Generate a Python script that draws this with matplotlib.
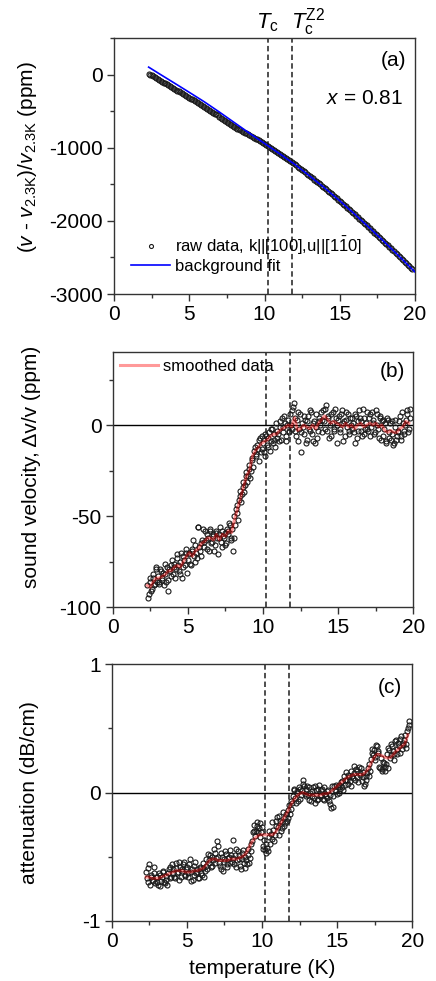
import numpy as np
import matplotlib
matplotlib.use("Agg")
import matplotlib.pyplot as plt
from matplotlib.ticker import MultipleLocator
import matplotlib.transforms as mtransforms

plt.rcParams['font.family'] = ['Liberation Sans', 'DejaVu Sans']
plt.rcParams['mathtext.fontset'] = 'custom'
plt.rcParams['mathtext.rm'] = 'Liberation Sans'
plt.rcParams['mathtext.it'] = 'Liberation Sans:italic'
plt.rcParams['mathtext.bf'] = 'Liberation Sans:bold'
plt.rcParams['axes.unicode_minus'] = False

# ---------------- data ----------------
T_c = 10.2
T_cZ2 = 11.8

# panel (a): background fit
fit_T = [2.3, 3, 4, 5, 6, 7, 8, 9, 10, 11, 12, 13, 14, 15, 16, 17, 18, 19, 20]
fit_v = [105, 15, -112, -240, -370, -510, -655, -800, -940, -1080, -1225,
         -1385, -1550, -1725, -1910, -2100, -2295, -2495, -2700]

# measurement temperature grids (K)
T1 = np.round(np.arange(2.3, 19.85, 0.1), 2)     # 2.3 ... 19.8
T2 = np.round(np.arange(2.35, 19.80, 0.1), 2)    # 2.35 ... 19.75

# panel (a): raw data (ppm) on T1
raw_v = [17, 3, -8, -18, -32, -46, -57,
         -68, -82, -95, -106, -117, -130, -143, -154, -167, -178,
         -190, -203, -216, -227, -238, -251, -265, -276, -287, -300,
         -313, -325, -336, -350, -361, -374, -388, -399, -410, -424,
         -437, -450, -465, -477, -490, -504, -518, -531, -543, -557,
         -572, -586, -599, -614, -627, -642, -656, -670, -684, -698,
         -711, -725, -737, -747, -757, -768, -780, -791, -802, -814,
         -826, -837, -848, -860, -872, -883, -896, -909, -922, -935,
         -949, -962, -975, -989, -1003, -1016, -1030, -1043, -1056, -1070,
         -1085, -1099, -1112, -1127, -1141, -1155, -1169, -1183, -1196, -1211,
         -1226, -1241, -1257, -1273, -1290, -1305, -1320, -1337, -1353, -1369,
         -1385, -1402, -1418, -1435, -1452, -1468, -1484, -1501, -1517, -1534,
         -1551, -1568, -1586, -1603, -1620, -1638, -1655, -1673, -1690, -1708,
         -1726, -1744, -1763, -1781, -1799, -1818, -1837, -1855, -1873, -1892,
         -1911, -1929, -1948, -1967, -1986, -2005, -2024, -2043, -2062, -2081,
         -2100, -2120, -2140, -2159, -2178, -2198, -2218, -2237, -2256, -2276,
         -2296, -2315, -2335, -2355, -2375, -2395, -2415, -2435, -2455, -2475,
         -2495, -2516, -2537, -2557, -2577, -2598, -2619, -2639, -2660]

# panel (b): sound velocity change (ppm) on T1 and T2
dv1 = [-88, -93, -86, -90, -84, -87, -79,
       -83, -86, -80, -84, -88, -82, -78, -85, -80, -77,
       -82, -76, -79, -73, -80, -75, -84, -72, -77, -70,
       -74, -70, -77, -68, -72, -66, -73, -56, -69, -65,
       -57, -67, -63, -60, -69, -58, -64, -61, -66, -59,
       -71, -60, -64, -58, -62, -66, -57, -60, -55, -63,
       -69, -50, -46, -48, -41, -36, -38, -31, -33, -26,
       -28, -22, -25, -18, -14, -16, -11, -20, -7, -13,
       -10, -17, -6, -12, -4, -9, -2, -8, -12, -3,
       -5, 2, -8, -1, 5, -6, 0, -3, 6, -2,
       10, 4, -6, 7, -2, -15, 1, -5, 3, -8,
       5, -3, 7, -9, 2, -1, -7, 4, 0, 3,
       8, -2, 11, 4, -7, 6, 1, -3, 9, 0,
       3, -4, 6, -9, 2, 7, -1, -5, 4, -2,
       1, -10, 5, -3, 8, 2, -6, 4, -2, 7,
       -3, 6, -1, 3, -5, 8, 0, -7, 4, 2,
       -6, 1, -9, 3, -4, -8, 2, -10, -1, -6,
       -3, 5, -8, 1, -5, 3, 8, -2, 4]
dv2 = [-95, -84, -91, -82, -88, -78, -86,
       -87, -79, -85, -81, -76, -86, -91, -79, -83, -74,
       -78, -84, -71, -77, -82, -70, -78, -74, -68, -81,
       -71, -76, -69, -63, -75, -70, -56, -67, -72, -63,
       -64, -58, -68, -62, -57, -65, -60, -69, -58, -62,
       -62, -56, -67, -61, -59, -65, -58, -54, -62, -57,
       -62, -55, -44, -52, -39, -42, -34, -37, -28, -31,
       -24, -29, -19, -23, -12, -17, -13, -8, -15, -6,
       -15, -5, -11, -7, -14, -2, -10, -5, 1, -7,
       -9, -1, 4, -4, 1, -9, 3, -4, 0, 8,
       12, -3, 3, -9, 6, -4, -1, 5, -10, 2,
       -2, 8, -5, 1, -10, 6, -3, 2, 7, -4,
       2, 9, -3, 5, 0, -6, 7, -2, 4, -10,
       5, -2, 8, 1, -6, 3, 6, -3, 0, 4,
       -4, 6, -7, 2, 4, -3, 9, -5, 1, -2,
       4, -6, 7, 1, -4, 6, -2, 5, -8, 3,
       -2, -10, 4, -7, 1, -5, -11, 3, -8, -4,
       2, -6, 7, -3, 0, 6, -4, 9]

# smoothed curves, T from 2.3 K to 19.7 K in 0.2 K steps
sm_T = np.round(np.arange(2.3, 19.75, 0.2), 1)
dv_smooth = [-88, -89, -86, -84, -84, -83, -82, -80, -80, -78,
             -77, -78, -75, -72, -70, -72, -69, -68, -65, -64,
             -62, -62, -63, -60, -63, -60, -61, -58, -59, -52,
             -46, -40, -34, -28, -25, -17, -14, -12, -10, -9,
             -8, -6, -5, -5, -3, -2, -1, 0, -1, 4,
             -3, -2, 0, -1, -2, 0, -2, 1, 3, 5,
             3, 1, 2, 1, 0, -1, 1, -1, 0, -2,
             0, 1, -1, 0, 1, 0, 1, -1, 0, -3,
             -4, -3, -4, -4, -2, -1, 2, 1]

# panel (c): attenuation (dB/cm) on T1 and T2
att1 = [-0.62, -0.70, -0.56, -0.66, -0.68, -0.63, -0.71,
        -0.66, -0.72, -0.64, -0.69, -0.61, -0.70, -0.65, -0.72, -0.60, -0.67,
        -0.56, -0.63, -0.67, -0.59, -0.62, -0.54, -0.66, -0.60, -0.54, -0.64,
        -0.58, -0.66, -0.52, -0.62, -0.68, -0.57, -0.63, -0.60, -0.67, -0.59,
        -0.64, -0.55, -0.61, -0.57, -0.48, -0.53, -0.58, -0.50, -0.44, -0.55,
        -0.38, -0.50, -0.57, -0.47, -0.61, -0.52, -0.48, -0.56, -0.50, -0.45,
        -0.54, -0.37, -0.49, -0.58, -0.46, -0.52, -0.60, -0.47, -0.55, -0.50,
        -0.56, -0.44, -0.51, -0.40, -0.31, -0.25, -0.30, -0.23, -0.28, -0.35,
        -0.27, -0.42, -0.45, -0.40, -0.46, -0.35, -0.32, -0.23, -0.38, -0.26,
        -0.19, -0.33, -0.22, -0.28, -0.15, -0.24, -0.17, -0.20, -0.10, -0.13,
        -0.08, 0.02, -0.04, 0.01, -0.07, 0.03, -0.02, 0.10, 0.05, -0.03,
        0.05, -0.06, 0.00, -0.03, 0.04, -0.08, 0.02, -0.05, 0.06, -0.02,
        0.03, -0.06, -0.01, -0.04, 0.02, -0.09, -0.12, -0.03, 0.05, 0.01,
        -0.01, 0.06, 0.03, 0.09, 0.02, 0.10, 0.16, 0.07, 0.12, 0.05,
        0.13, 0.21, 0.10, 0.17, 0.08, 0.15, 0.19, 0.12, 0.05, 0.10,
        0.15, 0.22, 0.17, 0.34, 0.29, 0.25, 0.37, 0.32, 0.20, 0.27,
        0.18, 0.23, 0.20, 0.30, 0.35, 0.27, 0.38, 0.32, 0.25, 0.41,
        0.30, 0.36, 0.42, 0.34, 0.39, 0.45, 0.38, 0.50, 0.56]
att2 = [-0.67, -0.59, -0.72, -0.64, -0.69, -0.58, -0.66,
        -0.70, -0.63, -0.73, -0.66, -0.62, -0.71, -0.68, -0.63, -0.58, -0.66,
        -0.60, -0.66, -0.55, -0.63, -0.68, -0.58, -0.61, -0.56, -0.65, -0.60,
        -0.63, -0.56, -0.69, -0.60, -0.64, -0.54, -0.62, -0.67, -0.58, -0.63,
        -0.59, -0.66, -0.52, -0.60, -0.55, -0.49, -0.57, -0.53, -0.47, -0.51,
        -0.42, -0.55, -0.60, -0.50, -0.54, -0.46, -0.58, -0.51, -0.55, -0.49,
        -0.51, -0.56, -0.44, -0.53, -0.49, -0.57, -0.52, -0.45, -0.59, -0.53,
        -0.49, -0.55, -0.46, -0.38, -0.30, -0.34, -0.26, -0.31, -0.24, -0.31,
        -0.44, -0.37, -0.47, -0.43, -0.30, -0.40, -0.36, -0.29, -0.33, -0.22,
        -0.27, -0.18, -0.30, -0.23, -0.26, -0.19, -0.22, -0.14, -0.17, -0.07,
        -0.03, 0.03, -0.08, 0.00, 0.04, -0.05, 0.02, 0.07, -0.01, 0.03,
        -0.02, 0.04, -0.07, 0.01, -0.04, 0.05, -0.06, 0.03, -0.03, 0.02,
        -0.05, 0.04, -0.03, 0.01, -0.07, -0.02, 0.05, -0.11, 0.02, 0.06,
        0.04, 0.00, 0.08, 0.04, 0.13, 0.06, 0.10, 0.14, 0.09, 0.17,
        0.11, 0.15, 0.18, 0.12, 0.20, 0.14, 0.09, 0.16, 0.07, 0.13,
        0.19, 0.13, 0.26, 0.31, 0.33, 0.28, 0.36, 0.31, 0.19, 0.17,
        0.24, 0.17, 0.22, 0.19, 0.33, 0.29, 0.36, 0.30, 0.40, 0.34,
        0.39, 0.31, 0.44, 0.37, 0.41, 0.35, 0.48, 0.53]

att_smooth = [-0.66, -0.66, -0.67, -0.67, -0.67, -0.66, -0.65, -0.64, -0.63, -0.62,
              -0.61, -0.61, -0.61, -0.62, -0.62, -0.62, -0.61, -0.61, -0.60, -0.59,
              -0.56, -0.53, -0.52, -0.52, -0.53, -0.53, -0.53, -0.53, -0.52, -0.52,
              -0.52, -0.51, -0.50, -0.48, -0.44, -0.39, -0.36, -0.34, -0.33, -0.33,
              -0.33, -0.33, -0.33, -0.31, -0.27, -0.23, -0.19, -0.15, -0.10, -0.06,
              -0.03, -0.01, 0.00, -0.01, -0.02, -0.02, -0.02, -0.02, -0.02, -0.01,
              -0.01, 0.00, 0.02, 0.04, 0.06, 0.08, 0.10, 0.12, 0.13, 0.14,
              0.14, 0.14, 0.14, 0.16, 0.19, 0.24, 0.28, 0.30, 0.29, 0.28,
              0.27, 0.27, 0.29, 0.32, 0.34, 0.36, 0.38, 0.45]

# ---------------- style ----------------
FS = 15
LFS = 12
SPINE = '#333333'
DASH_C = '#404040'
MS = 3.6
MEC = '#1a1a1a'

fig = plt.figure(figsize=(4.36, 9.81), dpi=100)
ax_a = fig.add_axes([0.2615, 0.7003, 0.6905, 0.2607])
ax_b = fig.add_axes([0.2585, 0.3810, 0.6895, 0.2600])
ax_c = fig.add_axes([0.2560, 0.0615, 0.6897, 0.2613])


def style(ax):
    for s in ax.spines.values():
        s.set_color(SPINE)
        s.set_linewidth(1.0)
    ax.tick_params(which='both', direction='out', top=False, right=False,
                   colors=SPINE, labelcolor='black', labelsize=FS)
    ax.tick_params(which='major', length=5, width=1.0, pad=3)
    ax.tick_params(which='minor', length=3, width=1.0)
    ax.set_xlim(0, 20)
    ax.xaxis.set_major_locator(MultipleLocator(5))
    ax.xaxis.set_minor_locator(MultipleLocator(2.5))
    for t in (T_c, T_cZ2):
        ax.axvline(t, color=DASH_C, lw=1.3, ls=(0, (3, 1.8)), zorder=1)


for ax in (ax_a, ax_b, ax_c):
    style(ax)

# panel (a)
ax_a.plot(T1, raw_v, ls='none', marker='o', ms=MS, mfc='none', mec=MEC,
          mew=0.8, zorder=2, label='raw data, k||[100],u||[1$\\bar{1}$0]')
ax_a.plot(fit_T, fit_v, color='#0000ff', lw=1.2, zorder=3, label='background fit')
ax_a.set_ylim(-3000, 500)
ax_a.yaxis.set_major_locator(MultipleLocator(1000))
ax_a.yaxis.set_minor_locator(MultipleLocator(500))
ax_a.set_ylabel('($v$ - $v_\\mathrm{2.3K}$)/$v_\\mathrm{2.3K}$ (ppm)', fontsize=FS)
ax_a.yaxis.set_label_coords(-0.25, 0.536)
ax_a.text(0.97, 0.914, '(a)', transform=ax_a.transAxes, ha='right', va='center', fontsize=FS)
ax_a.text(0.96, 0.766, '$x$ = 0.81', transform=ax_a.transAxes, ha='right', va='center', fontsize=FS)
ax_a.legend(loc='lower left', bbox_to_anchor=(0.058, 0.08), frameon=False,
            fontsize=LFS, handlelength=2.3, handletextpad=0.3, markerscale=0.8,
            labelspacing=0.1, borderpad=0, borderaxespad=0, numpoints=1)

trans = mtransforms.blended_transform_factory(ax_a.transData, ax_a.transAxes)
ax_a.text(T_c, 1.039, '$T_\\mathrm{c}$', transform=trans, ha='center', va='baseline', fontsize=16)
ax_a.text(T_cZ2 - 0.05, 1.039, '$T_\\mathrm{c}^\\mathrm{Z2}$', transform=trans, ha='left',
          va='baseline', fontsize=16)

# panel (b)
ax_b.axhline(0, color='black', lw=1.0, zorder=1)
ax_b.plot(T1, dv1, ls='none', marker='o', ms=MS, mfc='none', mec=MEC, mew=0.8, zorder=2)
ax_b.plot(T2, dv2, ls='none', marker='o', ms=MS, mfc='none', mec=MEC, mew=0.8, zorder=2)
ax_b.plot(sm_T, dv_smooth, color='red', alpha=0.4, lw=2.2, zorder=3, label='smoothed data')
ax_b.set_ylim(-100, 40)
ax_b.yaxis.set_major_locator(MultipleLocator(50))
ax_b.yaxis.set_minor_locator(MultipleLocator(25))
ax_b.set_ylabel('sound velocity, \u0394v/v (ppm)', fontsize=FS)
ax_b.yaxis.set_label_coords(-0.24, 0.55)
ax_b.text(0.972, 0.924, '(b)', transform=ax_b.transAxes, ha='right', va='center', fontsize=FS)
ax_b.legend(loc='upper left', bbox_to_anchor=(0.024, 0.972), frameon=False, fontsize=LFS,
            handlelength=2.3, handletextpad=0.3, borderpad=0, borderaxespad=0)

# panel (c)
ax_c.axhline(0, color='black', lw=1.0, zorder=1)
ax_c.plot(T1, att1, ls='none', marker='o', ms=MS, mfc='none', mec=MEC, mew=0.8, zorder=2)
ax_c.plot(T2, att2, ls='none', marker='o', ms=MS, mfc='none', mec=MEC, mew=0.8, zorder=2)
ax_c.plot(sm_T, att_smooth, color='red', alpha=0.4, lw=2.2, zorder=3)
ax_c.set_ylim(-1, 1)
ax_c.yaxis.set_major_locator(MultipleLocator(1))
ax_c.yaxis.set_minor_locator(MultipleLocator(0.5))
ax_c.set_ylabel('attenuation (dB/cm)', fontsize=FS)
ax_c.yaxis.set_label_coords(-0.24, 0.5)
ax_c.set_xlabel('temperature (K)', fontsize=FS, labelpad=6)
ax_c.text(0.967, 0.908, '(c)', transform=ax_c.transAxes, ha='right', va='center', fontsize=FS)

fig.savefig('out.png', dpi=100)
